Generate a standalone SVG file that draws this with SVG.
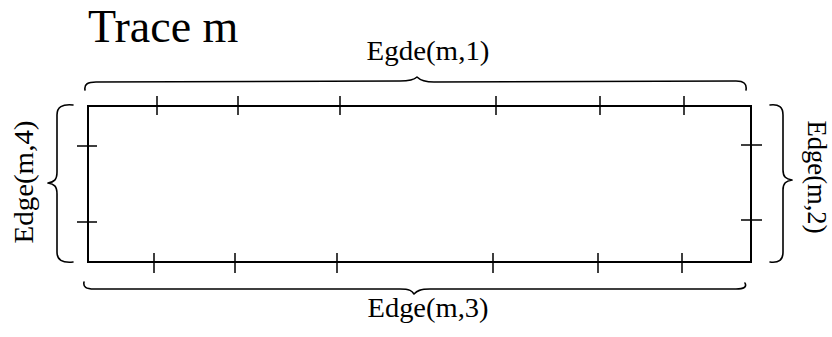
<svg xmlns="http://www.w3.org/2000/svg" width="832" height="337" viewBox="0 0 832 337">
<style>
.t{font-family:"Liberation Serif","Times New Roman",serif;fill:#000}
.tick{stroke:#000;stroke-width:1.5;fill:none}
.brace{stroke:#000;stroke-width:1.6;fill:none;stroke-linecap:round;stroke-linejoin:round}
</style>
<rect width="832" height="337" fill="#fff"/>
<text class="t" x="88" y="42" font-size="46">Trace m</text>
<g id="trace">
<rect x="88" y="106" width="663" height="156" fill="none" stroke="#000" stroke-width="2"/>
<g class="tick">
<path d="M157 96V115M238 96V115M340 96V115M496 96V115M600 96V115M684 96V115"/>
<path d="M154 253V273M235 253V273M337 253V273M493 253V273M598 253V273M682 253V273"/>
<path d="M77 146H97M77 222H97"/>
<path d="M741 145H762M741 220H762"/>
</g>
</g>
<g id="connectors">
<path class="brace" d="M85 90C84 84 88 82 96 82L400 81C410 81 414 80 417 77C420 80 424 82 434 82L736 81C744 81 747 84 746 90"/>
<path class="brace" d="M84 282C83 287 86 289 94 289L400 289C410 289 412 291 414 294C417 291 420 289 430 289L736 289C744 289 747 287 745 283"/>
<path class="brace" d="M73 105C62 104 57 107 57 115L57 172C57 180 54 182 48 183C54 184 57 186 57 194L57 252C57 260 62 263 73 262"/>
<path class="brace" d="M770 105C779 104 783 107 783 115L783 170C783 177 786 179 792 180C786 181 783 183 783 190L783 252C783 260 779 263 770 262"/>
</g>
<g id="labels">
<text class="t" x="428" y="60" font-size="27" text-anchor="middle" textLength="123" lengthAdjust="spacingAndGlyphs">Egde(m,1)</text>
<text class="t" x="428" y="317" font-size="27" text-anchor="middle" textLength="121" lengthAdjust="spacingAndGlyphs">Edge(m,3)</text>
<text class="t" font-size="27" text-anchor="middle" transform="translate(33 182) rotate(-90)" textLength="123" lengthAdjust="spacingAndGlyphs">Edge(m,4)</text>
<text class="t" font-size="27" text-anchor="middle" transform="translate(808 177) rotate(90)" textLength="113" lengthAdjust="spacingAndGlyphs">Edge(m,2)</text>
</g>
</svg>
